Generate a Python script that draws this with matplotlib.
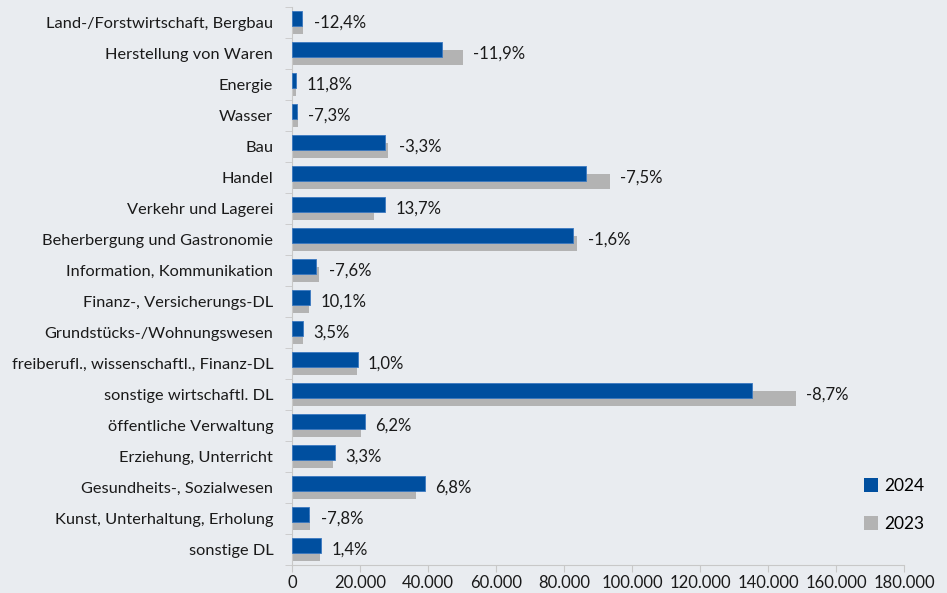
import matplotlib
matplotlib.use("Agg")
import matplotlib.pyplot as plt
from matplotlib.patches import Patch
from matplotlib.ticker import FuncFormatter, FixedLocator
import numpy as np

categories = [
    "Land-/Forstwirtschaft, Bergbau",
    "Herstellung von Waren",
    "Energie",
    "Wasser",
    "Bau",
    "Handel",
    "Verkehr und Lagerei",
    "Beherbergung und Gastronomie",
    "Information, Kommunikation",
    "Finanz-, Versicherungs-DL",
    "Grundstücks-/Wohnungswesen",
    "freiberufl., wissenschaftl., Finanz-DL",
    "sonstige wirtschaftl. DL",
    "öffentliche Verwaltung",
    "Erziehung, Unterricht",
    "Gesundheits-, Sozialwesen",
    "Kunst, Unterhaltung, Erholung",
    "sonstige DL",
]
values_2024 = [2900, 44200, 1200, 1500, 27400, 86500, 27400, 82500, 7200, 5400,
               3200, 19300, 135300, 21400, 12600, 39000, 5000, 8500]
values_2023 = [3300, 50200, 1070, 1620, 28350, 93500, 24100, 83850, 7800, 4900,
               3100, 19100, 148200, 20150, 12200, 36500, 5420, 8380]
change_labels = ["-12,4%", "-11,9%", "11,8%", "-7,3%", "-3,3%", "-7,5%", "13,7%",
                 "-1,6%", "-7,6%", "10,1%", "3,5%", "1,0%", "-8,7%", "6,2%",
                 "3,3%", "6,8%", "-7,8%", "1,4%"]
series_names = ["2024", "2023"]
x_ticks = [0, 20000, 40000, 60000, 80000, 100000, 120000, 140000, 160000, 180000]

BG = "#e9ecf0"
BLUE = "#004f9f"
GRAY = "#b3b3b3"
FONT = ["Lato", "DejaVu Sans"]
plt.rcParams["font.family"] = FONT

fig = plt.figure(figsize=(9.47, 5.93), dpi=100, facecolor=BG)
ax = fig.add_axes([292/947, 1-565/593, 612/947, 558/593])
ax.set_facecolor(BG)

y = np.arange(len(categories))
h = 0.5
off = 0.13
ax.barh(y + off, values_2023, height=h, color=GRAY, zorder=2)
ax.barh(y - off, values_2024, height=h, color=BLUE, edgecolor="#3b78c0",
        linewidth=0.6, zorder=3)

for i, lab in enumerate(change_labels):
    xm = max(values_2024[i], values_2023[i])
    ax.annotate(lab, (xm, y[i]), xytext=(7.5, 0), textcoords="offset points",
                va="center", ha="left", fontsize=12, color="#1a1a1a")

ax.set_ylim(len(categories) - 0.5, -0.5)
ax.set_xlim(0, 180000)
ax.set_yticks(y)
ax.set_yticklabels(categories, fontsize=11.8, color="#1a1a1a")
ax.yaxis.set_minor_locator(FixedLocator(np.arange(-0.5, len(categories), 1)))
ax.tick_params(axis="y", which="major", length=0, pad=13.5)
ax.tick_params(axis="y", which="minor", length=5, color="#c8c8c8", direction="out")

ax.set_xticks(x_ticks)
ax.xaxis.set_major_formatter(FuncFormatter(lambda v, p: f"{int(v):,}".replace(",", ".")))
ax.tick_params(axis="x", length=5, color="#c8c8c8", labelsize=12, pad=2.5,
               labelcolor="#1a1a1a")

for s in ["top", "right"]:
    ax.spines[s].set_visible(False)
ax.spines["left"].set_color("#c8c8c8")
ax.spines["bottom"].set_color("#c8c8c8")

handles = [Patch(facecolor=BLUE, label=series_names[0]),
           Patch(facecolor=GRAY, label=series_names[1])]
fig.legend(handles=handles, loc="center left", bbox_to_anchor=(848/947, 1-505/593),
           frameon=False, fontsize=12.5, handlelength=0.85, handleheight=0.85,
           handletextpad=0.35, labelspacing=1.3)

fig.savefig("out.png", dpi=100, facecolor=BG)
